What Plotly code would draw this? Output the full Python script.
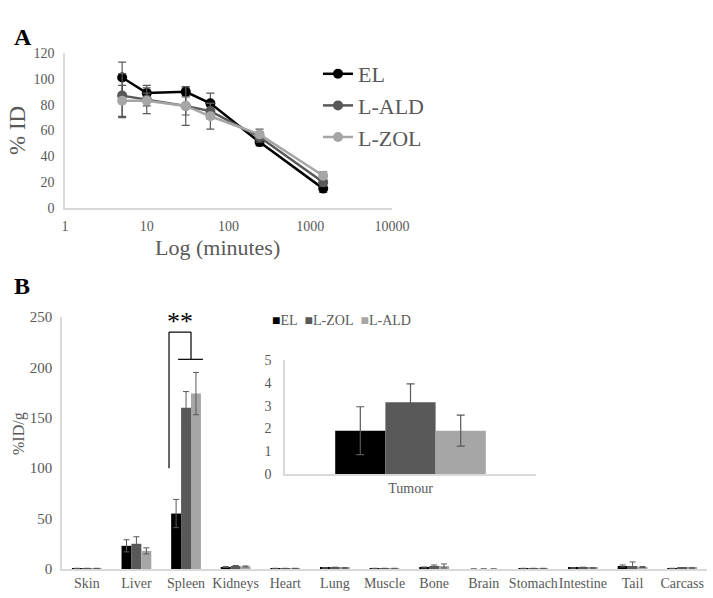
import plotly.graph_objects as go

# Panel A data: % ID over time
minutes = [5, 10, 30, 60, 240, 1440]
el_id = [101, 89, 90, 81, 51, 15]
el_id_err = [12, 6, 3, 8, 3, 3]
ald_id = [87, 84, 79, 75, 55, 20]
ald_id_err = [17, 5, 15, 6, 4, 3]
zol_id = [83, 83, 79, 71, 57, 25]
zol_id_err = [12, 10, 7, 10, 4, 3]
log_ticks = [1, 10, 100, 1000, 10000]

# Panel B data: biodistribution %ID/g
organs = ["Skin", "Liver", "Spleen", "Kidneys", "Heart", "Lung", "Muscle",
          "Bone", "Brain", "Stomach", "Intestine", "Tail", "Carcass"]
el_g = [0.5, 23, 55, 2, 0.5, 1, 0.5, 1.5, 0, 0.5, 1, 3, 0.5]
el_g_err = [0.2, 6, 14, 0.5, 0.2, 0.3, 0.2, 0.5, 0, 0.2, 0.3, 1, 0.2]
zol_g = [0.5, 25, 160, 3, 0.5, 1.5, 0.5, 3, 0, 0.5, 1.5, 3, 1]
zol_g_err = [0.2, 7, 16, 0.5, 0.2, 0.3, 0.2, 1, 0, 0.2, 0.3, 4, 0.2]
ald_g = [0.5, 18, 174, 2.5, 0.5, 1, 0.5, 3, 0, 0.5, 1, 2, 1]
ald_g_err = [0.2, 3, 21, 0.5, 0.2, 0.3, 0.2, 2, 0, 0.2, 0.3, 0.5, 0.2]

# Inset: tumour
tumour = ["Tumour"]
el_t, el_t_err = [1.9], [1.05]
zol_t, zol_t_err = [3.15], [0.8]
ald_t, ald_t_err = [1.9], [0.68]

FONT = "Liberation Serif"
GREY_TXT = "#595959"
AXIS = "#d9d9d9"
W, H = 713, 598


def px(x):
    return x / W


def py(y):
    return 1 - y / H


fig = go.Figure()

# Panel A lines
for name, vals, err, col in [("EL", el_id, el_id_err, "#000000"),
                             ("L-ALD", ald_id, ald_id_err, "#595959"),
                             ("L-ZOL", zol_id, zol_id_err, "#a6a6a6")]:
    fig.add_trace(go.Scatter(
        x=minutes, y=vals, mode="lines+markers", name=name, legendgroup=name,
        line=dict(color=col, width=2.5),
        marker=dict(color=col, size=10),
        error_y=dict(type="data", array=err, color="#595959", thickness=1.2, width=4),
        xaxis="x", yaxis="y"))

# Panel B bars
bar_series = [("EL", el_g, el_g_err, "#000000"),
              ("L-ZOL", zol_g, zol_g_err, "#595959"),
              ("L-ALD", ald_g, ald_g_err, "#a6a6a6")]
for name, vals, err, col in bar_series:
    fig.add_trace(go.Bar(
        x=organs, y=vals, name=name, showlegend=False,
        marker=dict(color=col, line=dict(width=0)),
        error_y=dict(type="data", array=err, color="#595959", thickness=1, width=3),
        xaxis="x2", yaxis="y2"))

# Inset bars
for name, vals, err, col in [("EL", el_t, el_t_err, "#000000"),
                             ("L-ZOL", zol_t, zol_t_err, "#595959"),
                             ("L-ALD", ald_t, ald_t_err, "#a6a6a6")]:
    fig.add_trace(go.Bar(
        x=tumour, y=vals, name=name, showlegend=False,
        marker=dict(color=col, line=dict(width=0)),
        error_y=dict(type="data", array=err, color="#595959", thickness=1.2, width=4),
        xaxis="x3", yaxis="y3"))

axis_common = dict(showgrid=False, zeroline=False, showline=True, linecolor=AXIS,
                   linewidth=1.5, ticks="", tickangle=0,
                   tickfont=dict(family=FONT, size=15, color=GREY_TXT))

fig.update_layout(
    width=W, height=H, margin=dict(l=0, r=0, t=0, b=0, autoexpand=False),
    plot_bgcolor="white", paper_bgcolor="white",
    font=dict(family=FONT, color=GREY_TXT),
    barmode="group", bargap=0.4, bargroupgap=0,
    xaxis=dict(axis_common, type="log", range=[0, 4], domain=[px(65), px(392)],
               anchor="y", tickvals=log_ticks, ticktext=[str(v) for v in log_ticks],
               ticklabelstandoff=4, tickfont=dict(family=FONT, size=14, color=GREY_TXT)),
    yaxis=dict(axis_common, range=[0, 120], dtick=20, domain=[py(208), py(53)], anchor="x",
               ticklabelstandoff=6, tickfont=dict(family=FONT, size=14, color=GREY_TXT)),
    xaxis2=dict(axis_common, domain=[px(62), px(707)], anchor="y2",
                tickfont=dict(family=FONT, size=14, color=GREY_TXT)),
    yaxis2=dict(axis_common, range=[0, 250], dtick=50, domain=[py(569), py(317)], anchor="x2",
                ticklabelstandoff=5),
    xaxis3=dict(axis_common, domain=[px(285), px(536)], anchor="y3",
                tickfont=dict(family=FONT, size=14, color=GREY_TXT)),
    yaxis3=dict(axis_common, range=[0, 5], dtick=1, domain=[py(474), py(360)], anchor="x3",
                ticklabelstandoff=9, tickfont=dict(family=FONT, size=14, color=GREY_TXT)),
    legend=dict(x=px(318), y=py(53), xanchor="left", yanchor="top",
                font=dict(family=FONT, size=22, color=GREY_TXT),
                bgcolor="rgba(0,0,0,0)", itemwidth=30, tracegroupgap=0),
)

# axis titles
fig.add_annotation(x=px(217), y=py(248), xref="paper", yref="paper", text="Log (minutes)",
                   showarrow=False, xanchor="center", yanchor="middle",
                   font=dict(family=FONT, size=22, color=GREY_TXT))
fig.add_annotation(x=px(18), y=py(131), xref="paper", yref="paper", text="% ID", textangle=-90,
                   showarrow=False, xanchor="center", yanchor="middle",
                   font=dict(family=FONT, size=23, color=GREY_TXT))
fig.add_annotation(x=px(19), y=py(434), xref="paper", yref="paper", text="%ID/g", textangle=-90,
                   showarrow=False, xanchor="center", yanchor="middle",
                   font=dict(family=FONT, size=16, color=GREY_TXT))

# Panel B legend as coloured squares
legend_b = "&nbsp;&nbsp;".join(
    f"<span style='color:{col}'>■</span>{name}" for name, _, _, col in bar_series)
fig.add_annotation(x=px(270), y=py(320), xref="paper", yref="paper", text=legend_b,
                   showarrow=False, xanchor="left", yanchor="middle",
                   font=dict(family=FONT, size=14, color=GREY_TXT))

# significance bracket on spleen
br = dict(type="line", xref="x2", yref="y2", line=dict(color="#000000", width=1.2))
fig.add_shape(br, x0=1.657, x1=1.657, y0=100, y1=235)
fig.add_shape(br, x0=1.657, x1=2.1, y0=235, y1=235)
fig.add_shape(br, x0=2.1, x1=2.1, y0=235, y1=208)
fig.add_shape(br, x0=1.84, x1=2.34, y0=208, y1=208)
fig.add_annotation(x=1.88, y=246, xref="x2", yref="y2", text="**", showarrow=False,
                   font=dict(family=FONT, size=26, color="#000000"))

fig.add_annotation(x=px(12), y=py(22), xref="paper", yref="paper", text="<b>A</b>",
                   showarrow=False, xanchor="left", font=dict(family=FONT, size=24, color="#000000"))
fig.add_annotation(x=px(12), y=py(286), xref="paper", yref="paper", text="<b>B</b>",
                   showarrow=False, xanchor="left", font=dict(family=FONT, size=24, color="#000000"))

# drop the page's default body margin so the figure fills the window
fig.write_html("out.html", config=dict(displayModeBar=False),
               post_script="document.body.style.margin='0';")
